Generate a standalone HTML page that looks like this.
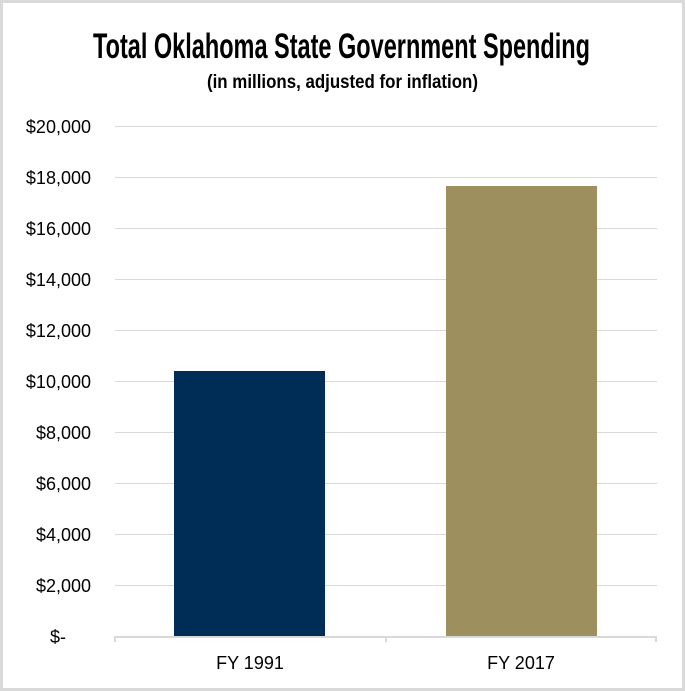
<!DOCTYPE html>
<html><head><meta charset="utf-8"><style>body{margin:0;background:#fff}svg{display:block}</style></head>
<body>
<svg width="685" height="691" xmlns="http://www.w3.org/2000/svg" font-family="Liberation Sans, sans-serif">
<rect x="1.5" y="1.5" width="682" height="688" fill="#fff" stroke="#d9d9d9" stroke-width="3"/>
<text x="93" y="58" font-size="35" font-weight="bold" textLength="497" lengthAdjust="spacingAndGlyphs" fill="#000">Total Oklahoma State Government Spending</text>
<text x="207" y="88" font-size="19" font-weight="bold" textLength="271" lengthAdjust="spacingAndGlyphs" fill="#000">(in millions, adjusted for inflation)</text>
<g stroke="#d9d9d9" stroke-width="1">
<line x1="115" x2="657" y1="126.5" y2="126.5"/>
<line x1="115" x2="657" y1="177.5" y2="177.5"/>
<line x1="115" x2="657" y1="228.5" y2="228.5"/>
<line x1="115" x2="657" y1="279.5" y2="279.5"/>
<line x1="115" x2="657" y1="330.5" y2="330.5"/>
<line x1="115" x2="657" y1="381.5" y2="381.5"/>
<line x1="115" x2="657" y1="432.5" y2="432.5"/>
<line x1="115" x2="657" y1="483.5" y2="483.5"/>
<line x1="115" x2="657" y1="534.5" y2="534.5"/>
<line x1="115" x2="657" y1="585.5" y2="585.5"/>
</g>
<rect x="174" y="371" width="151" height="265" fill="#002d56"/>
<rect x="446" y="186" width="151" height="450" fill="#9e8f5f"/>
<g stroke="#d9d9d9" stroke-width="2"><line x1="114" x2="657" y1="637" y2="637"/><line x1="115" x2="115" y1="636" y2="642"/><line x1="386" x2="386" y1="636" y2="642"/><line x1="656" x2="656" y1="636" y2="642"/></g>
<g font-size="18" fill="#000" text-anchor="end">
<text x="91" y="133">$20,000</text>
<text x="91" y="184">$18,000</text>
<text x="91" y="235">$16,000</text>
<text x="91" y="286">$14,000</text>
<text x="91" y="337">$12,000</text>
<text x="91" y="388">$10,000</text>
<text x="91" y="439">$8,000</text>
<text x="91" y="490">$6,000</text>
<text x="91" y="541">$4,000</text>
<text x="91" y="592">$2,000</text>
<text x="66" y="643">$-</text>
</g>
<g font-size="18" fill="#000" text-anchor="middle">
<text x="250" y="669">FY 1991</text>
<text x="521" y="669">FY 2017</text>
</g>
</svg>
</body></html>
